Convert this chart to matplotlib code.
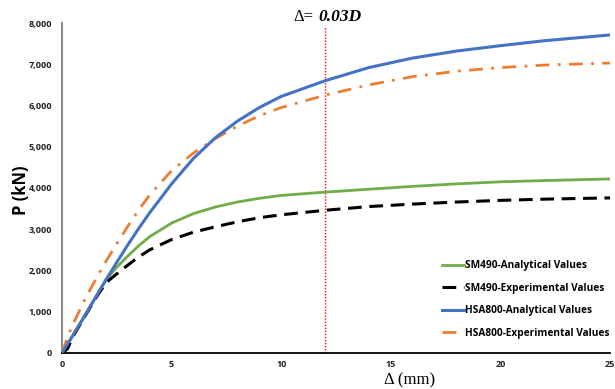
import numpy as np
import matplotlib.pyplot as plt
from matplotlib.ticker import FuncFormatter

# ------------------------------------------------------------
# Data, P in 1000 kN
# ------------------------------------------------------------
disp = [0, 0.25, 0.5, 1, 1.5, 2, 2.5, 3, 3.5, 4, 5, 6, 7, 8, 9, 10, 12, 14, 16, 18, 20, 22, 25]

sm490_ana = [0, 0.21, 0.43, 0.87, 1.32, 1.77, 2.08, 2.35, 2.6, 2.82, 3.15, 3.38, 3.54, 3.66, 3.75,
             3.82, 3.9, 3.97, 4.04, 4.1, 4.15, 4.18, 4.22]
sm490_exp = [0, 0.1, 0.4, 0.85, 1.3, 1.7, 1.92, 2.13, 2.33, 2.5, 2.75, 2.93, 3.06, 3.18, 3.28,
             3.35, 3.46, 3.55, 3.61, 3.66, 3.7, 3.73, 3.76]
hsa800_ana = [0, 0.21, 0.43, 0.87, 1.32, 1.77, 2.2, 2.62, 3.02, 3.4, 4.1, 4.72, 5.22, 5.62, 5.95,
              6.22, 6.6, 6.92, 7.15, 7.32, 7.45, 7.57, 7.71]
hsa800_exp = [0, 0.38, 0.7, 1.25, 1.75, 2.22, 2.65, 3.07, 3.47, 3.83, 4.42, 4.85, 5.2, 5.5, 5.75,
              5.95, 6.25, 6.5, 6.7, 6.83, 6.92, 6.98, 7.03]

labels = ["SM490-Analytical Values", "SM490-Experimental Values",
          "HSA800-Analytical Values", "HSA800-Experimental Values"]
x_ticks = [0, 5, 10, 15, 20, 25]
y_ticks = [0, 1000, 2000, 3000, 4000, 5000, 6000, 7000, 8000]
delta_limit = 12.0   # 0.03D

# ------------------------------------------------------------
# Plot
# ------------------------------------------------------------
fig = plt.figure(figsize=(6.15, 3.89), dpi=100)
ax = fig.add_axes([62 / 615, 1 - 353 / 389, 548 / 615, 330 / 389])

kn = lambda v: np.array(v) * 1000.0
ax.plot(disp, kn(sm490_ana), color='#70AD47', lw=2.0, label=labels[0], zorder=3)
ax.plot(disp, kn(sm490_exp), color='black', lw=2.2, dashes=(4.5, 2.5), label=labels[1], zorder=3)
ax.plot(disp, kn(hsa800_ana), color='#4472C4', lw=2.2, label=labels[2], zorder=4)
ax.plot(disp, kn(hsa800_exp), color='#ED7D31', lw=2.0, dashes=(5, 3, 1, 3), label=labels[3], zorder=3)

ax.axvline(delta_limit, ymax=0.99, color='red', lw=1.0, ls=(0, (1, 1.2)), zorder=2)

ax.set_xlim(0, 25)
ax.set_ylim(0, 8000)
ax.set_xticks(x_ticks)
ax.set_yticks(y_ticks)
ax.yaxis.set_major_formatter(FuncFormatter(lambda v, p: f"{int(v):,}"))
ax.tick_params(length=0, labelsize=6.5, labelcolor='#222222')
ax.tick_params(axis='y', pad=7)
ax.tick_params(axis='x', pad=5)
for lab in ax.get_xticklabels() + ax.get_yticklabels():
    lab.set_fontfamily('Open Sans')
    lab.set_fontweight('bold')

for s in ['top', 'right']:
    ax.spines[s].set_visible(False)
ax.spines['left'].set_color('#8c8c8c')
ax.spines['left'].set_linewidth(1.5)
ax.spines['bottom'].set_color('black')
ax.spines['bottom'].set_linewidth(1.3)

ax.set_ylabel("P (kN)", fontsize=12, fontweight='bold', family='Open Sans', va='center')
ax.yaxis.set_label_coords(-41 / 548, 163 / 330)
ax.set_xlabel("Δ (mm)", fontsize=12, family='Liberation Serif', va='center')
ax.xaxis.set_label_coords(348 / 548, -27 / 330)

fig.text(313 / 615, 1 - 17 / 389, "Δ=", fontsize=12, family='Liberation Serif',
         ha='right', va='center')
fig.text(318 / 615, 1 - 17 / 389, "0.03D", fontsize=12.5, family='Liberation Serif',
         fontweight='bold', style='italic', ha='left', va='center')

leg = ax.legend(loc='upper left', bbox_to_anchor=(438 / 615, 1 - 256 / 389),
                bbox_transform=fig.transFigure, frameon=False,
                prop={'family': 'Open Sans', 'weight': 'bold', 'size': 7.3},
                handlelength=2.2, handletextpad=0.1, labelspacing=1.15, borderaxespad=0)

fig.savefig("out.png", dpi=100)
